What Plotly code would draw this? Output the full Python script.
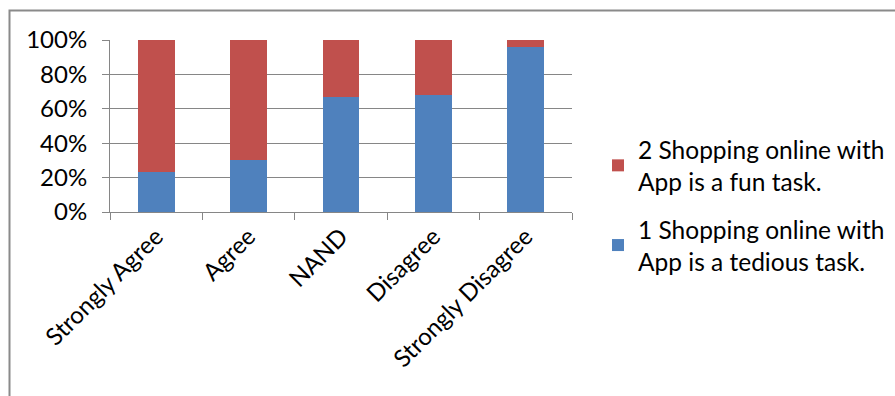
import plotly.graph_objects as go

categories = ["Strongly Agree", "Agree", "NAND", "Disagree", "Strongly Disagree"]
tedious_pct = [23.5, 30.1, 66.8, 68.1, 96.2]
fun_pct = [76.5, 69.9, 33.2, 31.9, 3.8]
series_names = ["1 Shopping online with<br>App is a tedious task.",
                "2 Shopping online with<br>App is a fun task."]
y_ticks = [0, 20, 40, 60, 80, 100]
y_tick_labels = ["0%", "20%", "40%", "60%", "80%", "100%"]

W, H = 895, 396
L, R, T, B = 110, 323, 40, 184
pw, ph = W - L - R, H - T - B

def px_x(p):
    return (p - L) / pw

def px_y(p):
    return (H - B - p) / ph

FONT = "Lato"
GRID = "#868686"

fig = go.Figure()
fig.add_trace(go.Bar(x=categories, y=tedious_pct, name=series_names[0],
                     marker=dict(color="#4F81BD", line=dict(width=0)),
                     legendgroup="b", legendrank=2))
fig.add_trace(go.Bar(x=categories, y=fun_pct, name=series_names[1],
                     marker=dict(color="#C0504D", line=dict(width=0)),
                     legendgroup="a", legendrank=1))

fig.update_layout(
    width=W, height=H,
    margin=dict(l=L, r=R, t=T, b=B, autoexpand=False),
    paper_bgcolor="white", plot_bgcolor="white",
    barmode="stack", bargap=0.6,
    font=dict(family=FONT, size=24, color="black"),
    showlegend=True,
    legend=dict(x=px_x(598), y=px_y(127), xanchor="left", yanchor="top",
                traceorder="grouped", tracegroupgap=13,
                font=dict(family=FONT, size=24.5, color="black"),
                bgcolor="rgba(0,0,0,0)", borderwidth=0),
    xaxis=dict(type="category", tickson="boundaries", ticks="outside",
               ticklen=7, tickcolor=GRID, tickwidth=1,
               showline=True, linecolor=GRID, linewidth=1,
               showgrid=False, tickangle=-45,
               tickfont=dict(family=FONT, size=24, color="black")),
    yaxis=dict(range=[0, 100], tickvals=y_ticks, ticktext=y_tick_labels,
               ticks="outside", ticklen=7, tickcolor=GRID, tickwidth=1,
               showline=True, linecolor=GRID, linewidth=1,
               showgrid=True, gridcolor=GRID, gridwidth=1,
               zeroline=False, ticklabelstandoff=10,
               tickfont=dict(family=FONT, size=24, color="black")),
    shapes=[dict(type="path", xref="paper", yref="paper",
                 path=f"M {px_x(9.5)} {px_y(420)} L {px_x(9.5)} {px_y(10.5)} L {px_x(920)} {px_y(10.5)}",
                 line=dict(color="#8a8a8a", width=2))],
)

fig.write_html("out.html")
